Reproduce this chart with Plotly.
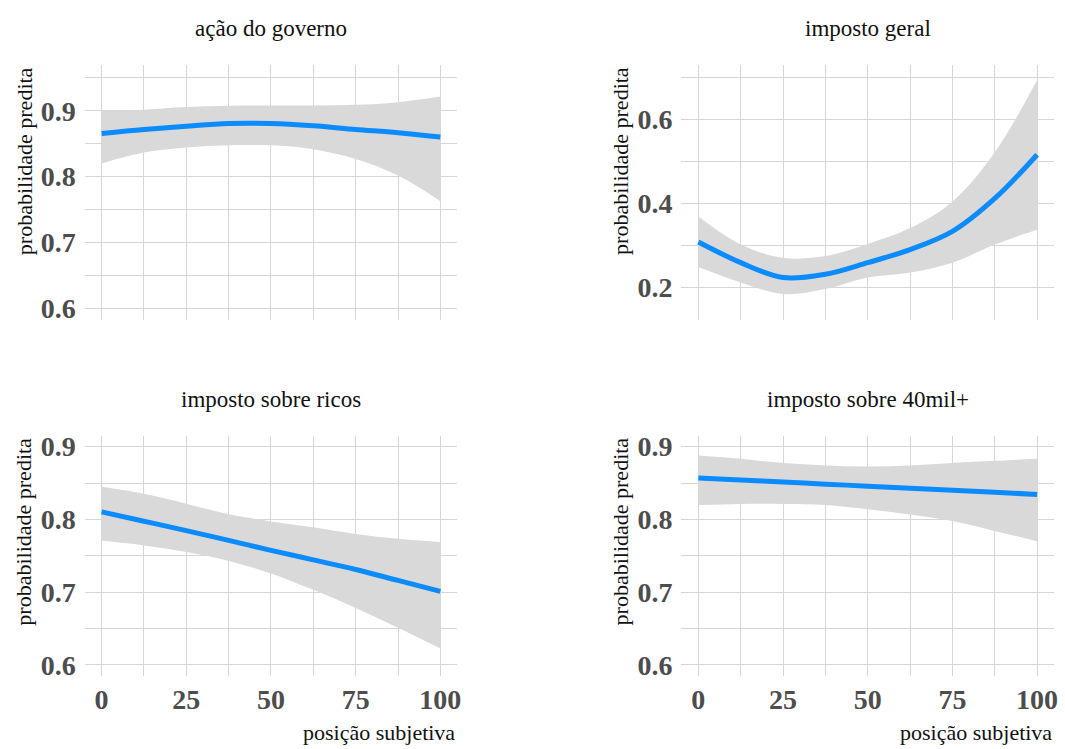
import plotly.graph_objects as go

W, H = 1065, 749

x_pos = [0, 12.5, 25, 37.5, 50, 62.5, 75, 87.5, 100]

panel_titles = ["ação do governo", "imposto geral", "imposto sobre ricos", "imposto sobre 40mil+"]

# ação do governo
gov_fit = [0.8655, 0.8715, 0.8765, 0.8805, 0.8805, 0.8770, 0.8715, 0.8665, 0.8600]
gov_hi = [0.9005, 0.9015, 0.9055, 0.9075, 0.9080, 0.9080, 0.9090, 0.9130, 0.9215]
gov_lo = [0.8200, 0.8365, 0.8440, 0.8475, 0.8475, 0.8415, 0.8265, 0.8015, 0.7625]

# imposto geral
ger_fit = [0.308, 0.259, 0.2235, 0.2314, 0.259, 0.290, 0.3333, 0.4118, 0.516]
ger_hi = [0.3686, 0.302, 0.2706, 0.2745, 0.3035, 0.3412, 0.404, 0.5216, 0.694]
ger_lo = [0.2486, 0.2118, 0.1843, 0.196, 0.2235, 0.2353, 0.2588, 0.302, 0.3373]

# imposto sobre ricos
ric_fit = [0.8104, 0.7975, 0.7846, 0.7711, 0.7575, 0.7444, 0.7312, 0.7161, 0.7010]
ric_hi = [0.8448, 0.8353, 0.8217, 0.8072, 0.7973, 0.7891, 0.7800, 0.7733, 0.7688]
ric_lo = [0.7710, 0.7643, 0.7552, 0.7430, 0.7258, 0.7032, 0.6783, 0.6511, 0.6226]

# imposto sobre 40mil+
mil_fit = [0.8570, 0.8542, 0.8514, 0.8485, 0.8457, 0.8429, 0.8401, 0.8372, 0.8344]
mil_hi = [0.8878, 0.8833, 0.8774, 0.8742, 0.8729, 0.8742, 0.8774, 0.8805, 0.8833]
mil_lo = [0.8199, 0.8213, 0.8213, 0.8199, 0.8140, 0.8068, 0.7977, 0.7842, 0.7701]

series = [(gov_fit, gov_hi, gov_lo), (ger_fit, ger_hi, ger_lo),
          (ric_fit, ric_hi, ric_lo), (mil_fit, mil_hi, mil_lo)]

x_ticks = [0, 25, 50, 75, 100]
x_range = [-5, 105]
y_ranges = [[0.582, 0.969], [0.122, 0.729], [0.585, 0.915], [0.585, 0.915]]
y_dticks = [0.1, 0.2, 0.1, 0.1]

FONT = "Liberation Serif"
GRID = "#D6D6D6"
LINE = "#0A8BFF"
RIBBON = "#D9D9D9"

# panel pixel boxes (left, top, right, bottom)
boxes = [(85, 62, 459, 320), (684, 62, 1058, 320),
         (85, 437, 459, 680), (684, 437, 1058, 680)]

fig = go.Figure()
layout = {}
annotations = []
for i, ((fit, hi, lo), box) in enumerate(zip(series, boxes)):
    n = i + 1
    xa = "x" if n == 1 else f"x{n}"
    ya = "y" if n == 1 else f"y{n}"
    fig.add_trace(go.Scatter(x=x_pos, y=hi, xaxis=xa, yaxis=ya, mode="lines",
                             line=dict(width=0, shape="spline", color=RIBBON),
                             showlegend=False, hoverinfo="skip"))
    fig.add_trace(go.Scatter(x=x_pos, y=lo, xaxis=xa, yaxis=ya, mode="lines",
                             line=dict(width=0, shape="spline", color=RIBBON),
                             fill="tonexty", fillcolor=RIBBON,
                             showlegend=False, hoverinfo="skip"))
    fig.add_trace(go.Scatter(x=x_pos, y=fit, xaxis=xa, yaxis=ya, mode="lines",
                             line=dict(width=5, shape="spline", color=LINE),
                             showlegend=False))
    l, t, r, b = box
    xkey = "xaxis" if n == 1 else f"xaxis{n}"
    ykey = "yaxis" if n == 1 else f"yaxis{n}"
    tickfont = dict(family=FONT, size=28, color="#4D4D4D", weight="bold")
    layout[xkey] = dict(domain=[l / W, r / W], anchor=ya, range=x_range,
                        tickmode="array", tickvals=x_ticks,
                        ticktext=[str(v) for v in x_ticks],
                        showticklabels=(n >= 3), showgrid=True, gridcolor=GRID,
                        gridwidth=1.2, zeroline=False, showline=False, ticks="",
                        ticklabelstandoff=4, tickfont=tickfont,
                        minor=dict(tick0=0, dtick=12.5, showgrid=True,
                                   gridcolor=GRID, gridwidth=1.2))
    layout[ykey] = dict(domain=[1 - b / H, 1 - t / H], anchor=xa,
                        range=y_ranges[i], tick0=0, dtick=y_dticks[i],
                        tickformat=".1f", showgrid=True, gridcolor=GRID,
                        gridwidth=1.2, zeroline=False, showline=False, ticks="",
                        ticklabelstandoff=8, tickfont=tickfont,
                        minor=dict(tick0=0, dtick=y_dticks[i] / 2, showgrid=True,
                                   gridcolor=GRID, gridwidth=1.2))
    # panel title
    annotations.append(dict(text=panel_titles[i], x=(l + r) / 2 / W,
                            y=1 - (t - 37) / H, xref="paper", yref="paper",
                            xanchor="center", yanchor="middle", showarrow=False,
                            font=dict(family=FONT, size=23, color="#111111")))
    # y title
    annotations.append(dict(text="probabilidade predita", x=(l - 61) / W,
                            y=1 - t / H, xref="paper", yref="paper",
                            xanchor="center", yanchor="top", textangle=-90,
                            showarrow=False,
                            font=dict(family=FONT, size=22, color="#111111")))
    if n >= 3:
        annotations.append(dict(text="posição subjetiva", x=r / W,
                                y=1 - 737 / H, xref="paper", yref="paper",
                                xanchor="right", yanchor="middle",
                                showarrow=False,
                                font=dict(family=FONT, size=22, color="#111111")))

fig.update_layout(width=W, height=H, margin=dict(l=0, r=0, t=0, b=0),
                  paper_bgcolor="white", plot_bgcolor="white",
                  annotations=annotations, **layout)

fig.write_html("out.html")
